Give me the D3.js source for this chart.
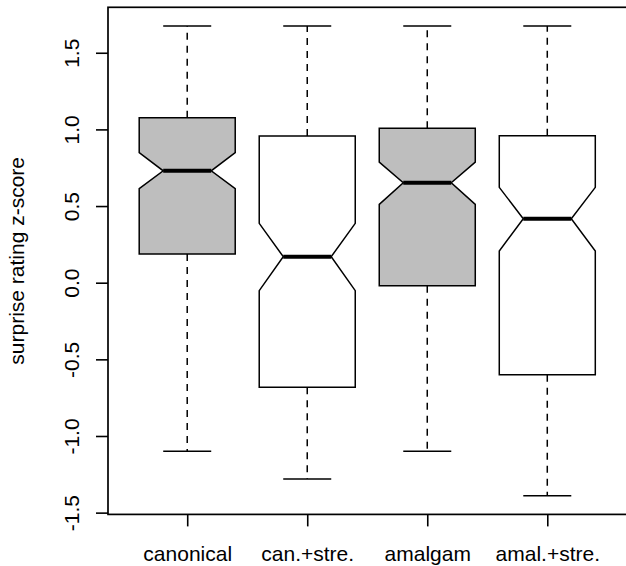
<!DOCTYPE html>
<html>
<head>
<meta charset="utf-8">
<script src="https://cdnjs.cloudflare.com/ajax/libs/d3/7.8.5/d3.min.js"></script>
<style>
  body { margin: 0; background: white; }
  svg { display: block; font-family: "Liberation Sans", Arial, sans-serif; }
</style>
</head>
<body>
<script>
// box plot stats
const categories = ["canonical", "can.+stre.", "amalgam", "amal.+stre."]
const whiskerLow = [-1.10, -1.28, -1.10, -1.39]
const q1 = [0.187, -0.682, -0.02, -0.60]
const median = [0.73, 0.17, 0.652, 0.417]
const q3 = [1.076, 0.957, 1.007, 0.959]
const whiskerHigh = [1.674, 1.674, 1.674, 1.674]
const notchLow = [0.613, -0.052, 0.511, 0.207]
const notchHigh = [0.848, 0.387, 0.787, 0.622]
const yTicks = [-1.5, -1.0, -0.5, 0.0, 0.5, 1.0, 1.5]

const w = 626, h = 566
const plotLeft = 108, plotRight = 626.5, plotTop = 7.3, plotBottom = 514.4

const boxes = categories.map((c, i) => ({
  name: c, pos: i + 1,
  lo: whiskerLow[i], q1: q1[i], med: median[i], q3: q3[i], hi: whiskerHigh[i],
  nl: notchLow[i], nh: notchHigh[i]
}))

const svg = d3.select("body").append("svg")
  .attr("width", w)
  .attr("height", h)

const xScale = d3.scaleLinear().domain([0.34, 4.66]).range([plotLeft, plotRight])
const yScale = d3.scaleLinear().domain([-1.5115, 1.7965]).range([plotBottom, plotTop])

const fill = d3.scaleOrdinal().domain(categories)
  .range(["#bebebe", "white", "#bebebe", "white"])

const hw = xScale(1.4) - xScale(1)   // half box width
const cap = xScale(1.2) - xScale(1)  // half staple width

const g = svg.selectAll("g.box")
  .data(boxes)
  .enter()
  .append("g")
  .attr("class", "box")

// whiskers
g.append("line")
  .attr("x1", d => xScale(d.pos)).attr("x2", d => xScale(d.pos))
  .attr("y1", d => yScale(d.q3)).attr("y2", d => yScale(d.hi))
  .attr("stroke", "black").attr("stroke-width", 1.5).attr("stroke-dasharray", "7,6")
g.append("line")
  .attr("x1", d => xScale(d.pos)).attr("x2", d => xScale(d.pos))
  .attr("y1", d => yScale(d.q1)).attr("y2", d => yScale(d.lo))
  .attr("stroke", "black").attr("stroke-width", 1.5).attr("stroke-dasharray", "7,6")
g.append("line")
  .attr("x1", d => xScale(d.pos) - cap).attr("x2", d => xScale(d.pos) + cap)
  .attr("y1", d => yScale(d.hi)).attr("y2", d => yScale(d.hi))
  .attr("stroke", "black").attr("stroke-width", 1.5)
g.append("line")
  .attr("x1", d => xScale(d.pos) - cap).attr("x2", d => xScale(d.pos) + cap)
  .attr("y1", d => yScale(d.lo)).attr("y2", d => yScale(d.lo))
  .attr("stroke", "black").attr("stroke-width", 1.5)

// notched box
g.append("path")
  .attr("d", d => {
    const x = xScale(d.pos)
    const pts = [
      [x - hw, yScale(d.q1)], [x - hw, yScale(d.nl)], [x - hw / 2, yScale(d.med)],
      [x - hw, yScale(d.nh)], [x - hw, yScale(d.q3)], [x + hw, yScale(d.q3)],
      [x + hw, yScale(d.nh)], [x + hw / 2, yScale(d.med)], [x + hw, yScale(d.nl)],
      [x + hw, yScale(d.q1)]
    ]
    return "M" + pts.join("L") + "Z"
  })
  .attr("fill", d => fill(d.name))
  .attr("stroke", "black")
  .attr("stroke-width", 1.5)

// median
g.append("line")
  .attr("x1", d => xScale(d.pos) - hw / 2).attr("x2", d => xScale(d.pos) + hw / 2)
  .attr("y1", d => yScale(d.med)).attr("y2", d => yScale(d.med))
  .attr("stroke", "black").attr("stroke-width", 4)

// frame (right side falls just outside the picture, as in the original)
svg.append("rect")
  .attr("x", plotLeft).attr("y", plotTop)
  .attr("width", plotRight + 1.5 - plotLeft).attr("height", plotBottom - plotTop)
  .attr("fill", "none").attr("stroke", "black").attr("stroke-width", 1.7)

// y axis
const yAxis = d3.axisLeft(yScale)
  .tickValues(yTicks)
  .tickSize(12)
  .tickFormat(d => d3.format(".1f")(d).replace("−", "-"))

const ya = svg.append("g")
  .attr("transform", "translate(" + plotLeft + ",0)")
  .call(yAxis)
ya.select(".domain").remove()
ya.selectAll("line").attr("stroke-width", 1.6)
ya.selectAll("text")
  .attr("transform", "rotate(-90)")
  .attr("x", 0).attr("y", -29).attr("dy", 0)
  .attr("text-anchor", "middle")
  .attr("font-size", 21)
  .attr("fill", "black")

// x axis
const xAxis = d3.axisBottom(xScale)
  .tickValues(boxes.map(d => d.pos))
  .tickSize(12)
  .tickFormat((d, i) => categories[i])

const xa = svg.append("g")
  .attr("transform", "translate(0," + plotBottom + ")")
  .call(xAxis)
xa.select(".domain").remove()
xa.selectAll("line").attr("stroke-width", 1.6)
xa.selectAll("text")
  .attr("y", 47).attr("dy", 0)
  .attr("font-size", 21)
  .attr("fill", "black")

// y label
svg.append("text")
  .attr("transform", "translate(24," + ((plotTop + plotBottom) / 2) + ") rotate(-90)")
  .attr("text-anchor", "middle")
  .attr("font-size", 21)
  .text("surprise rating z-score")
</script>
</body>
</html>
